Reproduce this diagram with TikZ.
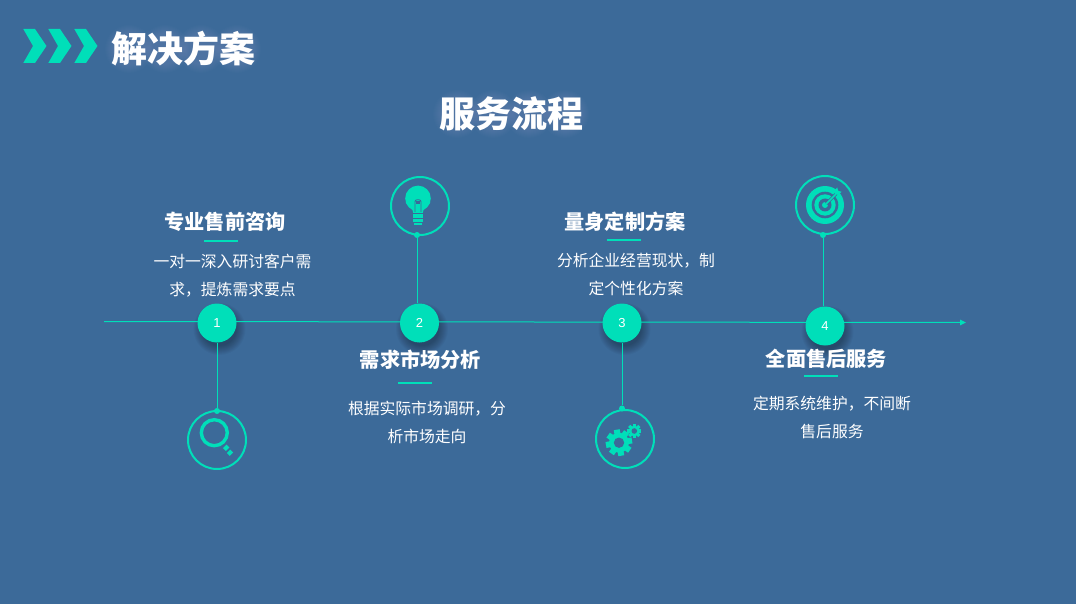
\documentclass[tikz,border=0pt]{standalone}
\usepackage{fontspec}
\setmainfont{Noto Sans CJK SC}
\newfontfamily\numfont{Liberation Sans}
\usetikzlibrary{arrows.meta}
\definecolor{bgblue}{HTML}{3C6A99}
\definecolor{teal}{HTML}{00DFB9}
\tikzset{
  titletext/.style={text=white,inner sep=0pt,font=\fontsize{36}{40}\selectfont\bfseries},
  headtext/.style={text=white,inner sep=0pt,font=\fontsize{20.2}{24}\selectfont\bfseries},
  bodytext/.style={text=white,inner sep=0pt,font=\fontsize{15.8}{28}\selectfont,align=center},
  numdisc/.style={circle,fill=teal,minimum size=39pt,inner sep=0pt,text=white,font=\fontsize{13}{15}\selectfont\numfont},
  iconring/.style={circle,draw=teal,line width=2pt,minimum size=58pt,inner sep=0pt},
  joint/.style={circle,fill=teal,minimum size=6pt,inner sep=0pt},
  stem/.style={draw=teal,line width=1pt},
  rulebar/.style={draw=teal,line width=1.4pt},
  chev/.style={fill=teal},
  icon/.style={fill=teal,draw=none},
  cutout/.style={fill=bgblue,draw=none}
}
\newcommand{\discshadow}[2]{%
  \foreach \r in {26,25,24,23,22,21,20,19,18,17}{\fill[black,opacity=0.03] (#1+2.5,#2+6) circle (\r);}}
\newcommand{\charglow}[2]{%
  \foreach \g in {24,23,22,21,20,19,18,17,16}{\fill[white,opacity=0.012] (#1,#2) circle (\g);}}
\newcommand{\gearshape}[5]{%
  \fill[icon] (#1,#2) circle (#3);
  \foreach \a in {0,45,...,315}{\fill[icon,rotate around={\a+#5:(#1,#2)}] (#1-#3*0.3,#2) rectangle (#1+#3*0.3,#2-#3*1.32);}
  \fill[cutout] (#1,#2) circle (#4);}
\begin{document}
\begin{tikzpicture}[x=1pt,y=-1pt]
\fill[bgblue] (0,0) rectangle (1076,604);
\useasboundingbox (0,0) rectangle (1076,604);
% chevrons
\foreach \s in {0,25,51}{\fill[chev,xshift=\s pt] (23.3,29)--(35,29)--(46.5,46)--(35,63)--(23.3,63)--(33,46)--cycle;}
% title glow
\foreach \c in {129,165,201,237}{\charglow{\c}{49}}
\foreach \c in {457,493,529,565}{\charglow{\c}{114}}
\node[titletext] (title) at (183,49) {解决方案};
\node[titletext] (subtitle) at (511,114) {服务流程};
% shadows
\discshadow{217}{323}\discshadow{419.5}{323}\discshadow{622}{323}\discshadow{825}{326}
% axis
\coordinate (axisstart) at (104,321.5);
\coordinate (axisend) at (966,322.5);
\draw[teal,line width=1pt,-{Triangle[length=6pt,width=5.5pt]}] (axisstart) -- (axisend);
% icon rings
\node[iconring] (ring1) at (217,440) {};
\node[iconring] (ring2) at (420,206) {};
\node[iconring] (ring3) at (625,439) {};
\node[iconring] (ring4) at (825,205) {};
% joints
\node[joint] (j1) at (217,411) {};
\node[joint] (j2) at (417,235) {};
\node[joint] (j3) at (622,408.5) {};
\node[joint] (j4) at (823,235) {};
% discs
\node[numdisc] (n1) at (217,323) {1};
\node[numdisc] (n2) at (419.5,323) {2};
\node[numdisc] (n3) at (622,323) {3};
\node[numdisc] (n4) at (825,326) {4};
% stems
\draw[stem] (j1) -- (j1|-n1.south);
\draw[stem] (j2) -- (j2|-n2.north);
\draw[stem] (j3) -- (j3|-n3.south);
\draw[stem] (j4) -- (j4|-n4.north);
% text block 1
\node[headtext] (h1) at (225,222) {专业售前咨询};
\draw[rulebar] (204,241) -- (238,241);
\node[bodytext] (b1) at (232.5,275.5) {一对一深入研讨客户需\\求，提炼需求要点};
% text block 2
\node[headtext] (h2) at (420.5,360) {需求市场分析};
\draw[rulebar] (398,383) -- (432,383);
\node[bodytext] (b2) at (427,422.5) {根据实际市场调研，分\\析市场走向};
% text block 3
\node[headtext] (h3) at (625,222) {量身定制方案};
\draw[rulebar] (607,240) -- (641,240);
\node[bodytext] (b3) at (636,274.5) {分析企业经营现状，制\\定个性化方案};
% text block 4
\node[headtext] (h4) at (826.5,359) {全面售后服务};
\draw[rulebar] (804,376) -- (838,376);
\node[bodytext] (b4) at (832,417.5) {定期系统维护，不间断\\售后服务};
% magnifier
\draw[teal,line width=3.4pt] (214.3,432.7) circle (13);
\fill[icon,rotate around={45:(226.2,447.8)}] (223.7,445.8) rectangle (228.7,449.8);
\fill[icon,rotate around={45:(230,452.8)}] (227.6,450.8) rectangle (232.4,454.8);
% bulb
\fill[icon] (418,198.4) circle (12.8);
\fill[icon] (405.6,202) .. controls (408,207) and (413.3,208) .. (413.3,213) -- (422.7,213) .. controls (422.7,208) and (428,207) .. (430.4,202) -- cycle;
\draw[bgblue,line width=0.9pt,rounded corners=2pt] (415,212) -- (415,199.8) -- (421,199.8) -- (421,212);
\fill[cutout] (416.4,201) rectangle (419.6,204.5);
\fill[icon] (413.3,213.6) rectangle (422.7,217.6);
\fill[icon] (413.3,219.2) rectangle (422.7,221.6);
\fill[icon] (414,222.8) rectangle (422,225);
% gears
\gearshape{619}{442.7}{10}{5.2}{10}
\gearshape{634.3}{431}{5.4}{2.8}{0}
% target
\fill[icon] (825,205) circle (19);
\fill[cutout] (825,205) circle (13.3);
\fill[icon] (825,205) circle (10.7);
\fill[cutout] (825,205) circle (6.5);
\fill[icon] (825,205) circle (3);
\draw[bgblue,line width=3pt] (826,204) -- (838,192);
\draw[teal,line width=1.5pt] (825,205) -- (836,194);
\fill[icon] (834,191) -- (837.2,187.5) -- (838.2,190.8) -- (841.5,191.8) -- (838.5,195) -- (835,194) -- cycle;
\end{tikzpicture}
\end{document}
